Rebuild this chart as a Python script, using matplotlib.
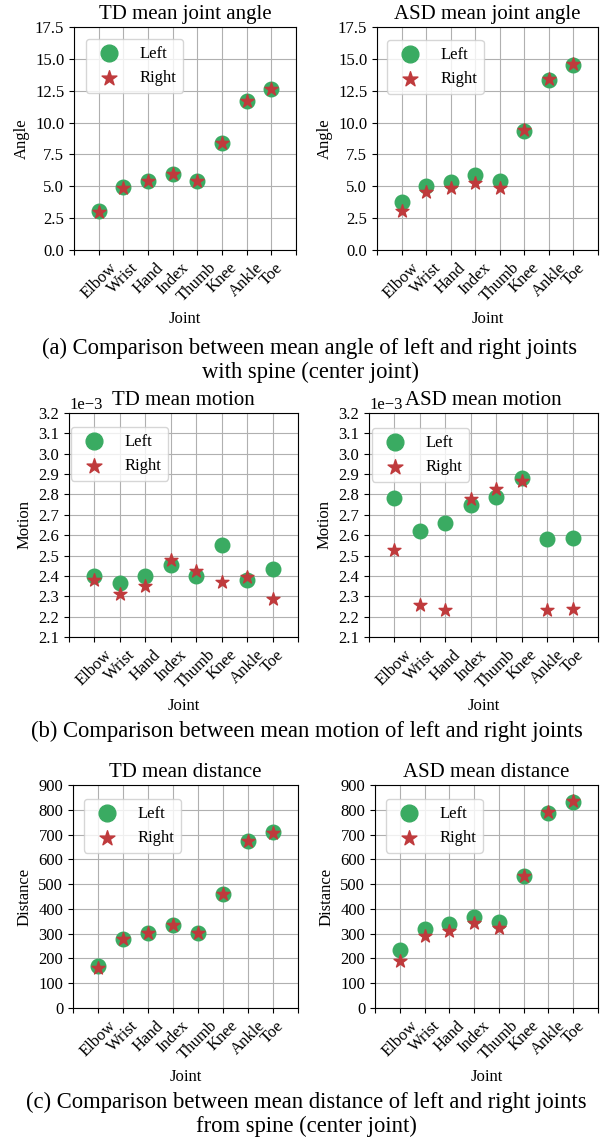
import matplotlib
matplotlib.use("Agg")
import matplotlib.pyplot as plt

plt.rcParams['font.family'] = ['Liberation Serif', 'DejaVu Serif']
plt.rcParams['mathtext.fontset'] = 'stix'

joints = ['Elbow', 'Wrist', 'Hand', 'Index', 'Thumb', 'Knee', 'Ankle', 'Toe']

# mean joint angle with spine
td_angle_left = [3.08, 4.95, 5.38, 5.97, 5.40, 8.37, 11.72, 12.64]
td_angle_right = [2.95, 4.90, 5.38, 5.95, 5.38, 8.37, 11.70, 12.62]
asd_angle_left = [3.79, 5.01, 5.35, 5.87, 5.40, 9.37, 13.37, 14.52]
asd_angle_right = [3.08, 4.52, 4.83, 5.27, 4.88, 9.40, 13.40, 14.56]

# mean motion (x 1e-3)
td_motion_left = [2.400, 2.364, 2.400, 2.455, 2.398, 2.550, 2.380, 2.432]
td_motion_right = [2.380, 2.310, 2.351, 2.480, 2.425, 2.368, 2.396, 2.289]
asd_motion_left = [2.783, 2.619, 2.660, 2.750, 2.788, 2.880, 2.580, 2.588]
asd_motion_right = [2.527, 2.259, 2.235, 2.778, 2.827, 2.866, 2.235, 2.238]

# mean distance from spine
td_dist_left = [171, 280, 303, 336, 304, 462, 676, 710]
td_dist_right = [160, 278, 303, 334, 303, 462, 672, 707]
asd_dist_left = [234, 319, 341, 368, 346, 532, 788, 832]
asd_dist_right = [189, 292, 312, 344, 321, 532, 790, 834]

green = '#3aab62'
red = '#bf3a3c'

W, H = 605, 1144
fig = plt.figure(figsize=(W / 100, H / 100), dpi=100)


def make_ax(x0, x1, y0, y1):
    return fig.add_axes([x0 / W, 1 - y1 / H, (x1 - x0) / W, (y1 - y0) / H])


def draw(ax, left, right, title, ylabel, ylim, yticks, leg_xy, scale=1.0):
    xs = range(len(joints))
    ax.scatter(xs, [v * scale for v in left], s=110, color=green, label='Left', zorder=3)
    ax.scatter(xs, [v * scale for v in right], s=95, marker='*', color=red, label='Right', zorder=4)
    ax.set_xlim(-1, 8)
    ax.set_xticks(range(-1, 9))
    ax.set_xticklabels([''] + joints + [''], rotation=45, fontsize=12)
    ax.set_ylim(ylim[0] * scale, ylim[1] * scale)
    ax.set_yticks([t * scale for t in yticks])
    ax.tick_params(axis='y', labelsize=12)
    ax.grid(True, color='#b0b0b0', linewidth=0.8)
    ax.set_axisbelow(True)
    ax.set_title(title, fontsize=15)
    ax.set_xlabel('Joint', fontsize=12)
    ax.set_ylabel(ylabel, fontsize=12)
    ax.legend(loc='upper left', bbox_to_anchor=leg_xy, borderaxespad=0, fontsize=12,
              markerscale=1.15)


angle_ticks = [0, 2.5, 5.0, 7.5, 10.0, 12.5, 15.0, 17.5]
motion_ticks = [2.1 + 0.1 * i for i in range(12)]
dist_ticks = list(range(0, 901, 100))

ax = make_ax(74, 296, 27, 250)
draw(ax, td_angle_left, td_angle_right, 'TD mean joint angle', 'Angle', (0, 17.5), angle_ticks, (0.054, 0.946))
ax = make_ax(377, 598, 27, 250)
draw(ax, asd_angle_left, asd_angle_right, 'ASD mean joint angle', 'Angle', (0, 17.5), angle_ticks, (0.045, 0.942))

ax = make_ax(69, 298, 413, 637)
draw(ax, td_motion_left, td_motion_right, 'TD mean motion', 'Motion', (2.1, 3.2), motion_ticks, (0.009, 0.937), scale=1e-3)
ax.ticklabel_format(axis='y', style='sci', scilimits=(0, 0))
ax.yaxis.get_offset_text().set_fontsize(12)
ax = make_ax(369, 598, 413, 637)
draw(ax, asd_motion_left, asd_motion_right, 'ASD mean motion', 'Motion', (2.1, 3.2), motion_ticks, (0.013, 0.933), scale=1e-3)
ax.ticklabel_format(axis='y', style='sci', scilimits=(0, 0))
ax.yaxis.get_offset_text().set_fontsize(12)

ax = make_ax(73, 298, 785, 1008)
draw(ax, td_dist_left, td_dist_right, 'TD mean distance', 'Distance', (0, 900), dist_ticks, (0.049, 0.937))
ax = make_ax(375, 598, 785, 1008)
draw(ax, asd_dist_left, asd_dist_right, 'ASD mean distance', 'Distance', (0, 900), dist_ticks, (0.049, 0.937))

# captions
cap = 16.3
fig.text(310 / W, 1 - 348 / H, '(a) Comparison between mean angle of left and right joints',
         ha='center', va='center', fontsize=cap)
fig.text(310 / W, 1 - 372 / H, 'with spine (center joint)', ha='center', va='center', fontsize=cap)
fig.text(307 / W, 1 - 731 / H, '(b) Comparison between mean motion of left and right joints',
         ha='center', va='center', fontsize=cap)
fig.text(306 / W, 1 - 1102 / H, '(c) Comparison between mean distance of left and right joints',
         ha='center', va='center', fontsize=cap)
fig.text(306 / W, 1 - 1126 / H, 'from spine (center joint)', ha='center', va='center', fontsize=cap)

fig.savefig('out.png', dpi=100)
